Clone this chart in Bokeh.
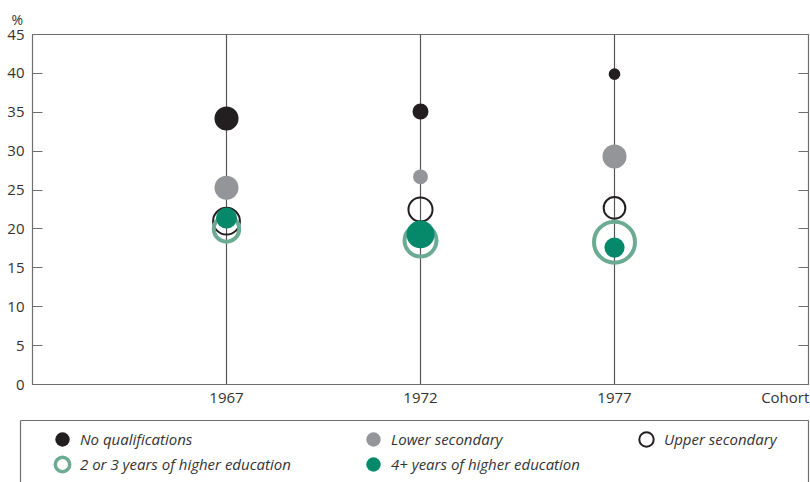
import numpy as np
from bokeh.plotting import figure
from bokeh.layouts import column, row
from bokeh.models import (ColumnDataSource, FixedTicker, LinearAxis, Legend, LegendItem,
                          Title, Range1d)
from bokeh.embed import file_html
from bokeh.resources import INLINE

# ---- data ----
cohorts = [1967, 1972, 1977]
cohort_labels = ["1967", "1972", "1977"]
x_axis_title = "Cohort"
x_axis_title_pos = 1981.4
y_axis_title = "%"
y_ticks = [0, 5, 10, 15, 20, 25, 30, 35, 40, 45]

no_qual = [34.2, 35.1, 39.9]
lower_sec = [25.3, 26.7, 29.3]
upper_sec = [21.0, 22.5, 22.7]
higher_2_3 = [20.0, 18.5, 18.3]
higher_4 = [21.4, 19.3, 17.6]

# bubble weights (share of cohort)
share_no_qual = [17, 7.5, 4]
share_lower_sec = [17, 6.5, 17]
share_upper_sec = [24.5, 20, 16.5]
share_higher_2_3 = [25.5, 38, 59.5]
share_higher_4 = [13, 23, 12]

series_names = ["No qualifications", "Lower secondary", "Upper secondary",
                "2 or 3 years of higher education", "4+ years of higher education"]

FONT = "Open Sans"
AXIS_COL = "#6d6e71"
TEXT_COL = "#333333"
K = 2.915  # px radius per sqrt(share)

styles = [
    dict(fill_color="#231f20", line_color=None),
    dict(fill_color="#939598", line_color=None),
    dict(fill_color=None, line_color="#231f20", line_width=2),
    dict(fill_color=None, line_color="#6cab93", line_width=4),
    dict(fill_color="#06896a", line_color=None),
]
ring_lw = [0, 0, 2, 4, 0]

# ---------------- main chart ----------------
p = figure(width=810, height=414, output_backend="svg", toolbar_location=None,
           x_range=Range1d(1962, 1982), y_range=Range1d(0, 45),
           min_border_left=32, min_border_right=2, min_border_top=34, min_border_bottom=30)
p.outline_line_color = AXIS_COL
p.outline_line_width = 1.2

xticks = cohorts + [x_axis_title_pos]
p.xaxis.ticker = FixedTicker(ticks=xticks)
overrides = {c: l for c, l in zip(cohorts, cohort_labels)}
overrides[x_axis_title_pos] = x_axis_title
p.xaxis.major_label_overrides = overrides
p.xaxis.major_tick_in = 0
p.xaxis.major_tick_out = 0
p.xaxis.minor_tick_line_color = None
p.xaxis.axis_line_color = AXIS_COL
p.xaxis.major_label_standoff = 2

p.yaxis.ticker = FixedTicker(ticks=y_ticks)
p.yaxis.major_tick_in = 10
p.yaxis.major_tick_out = 0
p.yaxis.minor_tick_line_color = None
p.yaxis.axis_line_color = AXIS_COL
p.yaxis.major_tick_line_color = AXIS_COL
p.yaxis.major_label_standoff = 8

for ax in (p.xaxis[0], p.yaxis[0]):
    ax.major_label_text_font = FONT
    ax.major_label_text_font_size = "15px"
    ax.major_label_text_color = TEXT_COL

right = LinearAxis(ticker=FixedTicker(ticks=y_ticks), major_tick_in=10, major_tick_out=0,
                   minor_tick_line_color=None, axis_line_color=AXIS_COL,
                   major_tick_line_color=AXIS_COL, major_label_text_font_size="0px",
                   major_label_standoff=0)
p.add_layout(right, "right")

p.xgrid.ticker = FixedTicker(ticks=cohorts)
p.xgrid.grid_line_color = "#555555"
p.xgrid.grid_line_width = 1.2
p.ygrid.grid_line_color = None

p.add_layout(Title(text=y_axis_title, align="left", offset=-21, standoff=8,
                   vertical_align="top",
                   text_font=FONT, text_font_size="14px", text_font_style="normal",
                   text_color=TEXT_COL), "above")

values = [no_qual, lower_sec, upper_sec, higher_2_3, higher_4]
shares = [share_no_qual, share_lower_sec, share_upper_sec, share_higher_2_3, share_higher_4]
for vals, sh, st, lw in zip(values, shares, styles, ring_lw):
    sizes = [2 * K * np.sqrt(s) - lw for s in sh]
    src = ColumnDataSource(dict(x=cohorts, y=vals, size=sizes))
    p.scatter("x", "y", size="size", source=src, **st)

# ---------------- legend panel ----------------
lg = figure(width=810, height=68, output_backend="svg", toolbar_location=None,
            x_range=Range1d(0, 1), y_range=Range1d(0, 1),
            x_axis_location=None, y_axis_location=None,
            min_border_left=20, min_border_right=2, min_border_top=6, min_border_bottom=0)
lg.outline_line_color = None
lg.xgrid.visible = False
lg.ygrid.visible = False
for side in ("left", "right", "above"):
    a = LinearAxis(ticker=FixedTicker(ticks=[]), axis_line_color=AXIS_COL, axis_line_width=1.2,
                   major_tick_line_color=None, minor_tick_line_color=None,
                   major_tick_in=0, major_tick_out=0, minor_tick_in=0, minor_tick_out=0,
                   major_label_text_font_size="0px", major_label_standoff=0,
                   axis_label_standoff=0)
    lg.add_layout(a, side)

legend_styles = [dict(st) for st in styles]
legend_styles[3]["line_width"] = 3.5
# legend item anchors (screen px inside the legend frame)
legend_locs = [(24, 24), (335, 24), (608, 24), (24, -1), (335, -1)]
for name, st, loc in zip(series_names, legend_styles, legend_locs):
    r = lg.scatter(x=[np.nan], y=[np.nan], **st)
    leg = Legend(items=[LegendItem(label=name, renderers=[r])], location=loc,
                 padding=0, margin=0, glyph_width=36, glyph_height=38, label_standoff=-2,
                 label_text_font=FONT, label_text_font_size="15px",
                 label_text_font_style="italic", label_text_color=TEXT_COL,
                 border_line_color=None, background_fill_color=None)
    lg.add_layout(leg, "center")

page = column(p, row(lg), spacing=0)
open("out.html", "w").write(file_html(page, INLINE))
